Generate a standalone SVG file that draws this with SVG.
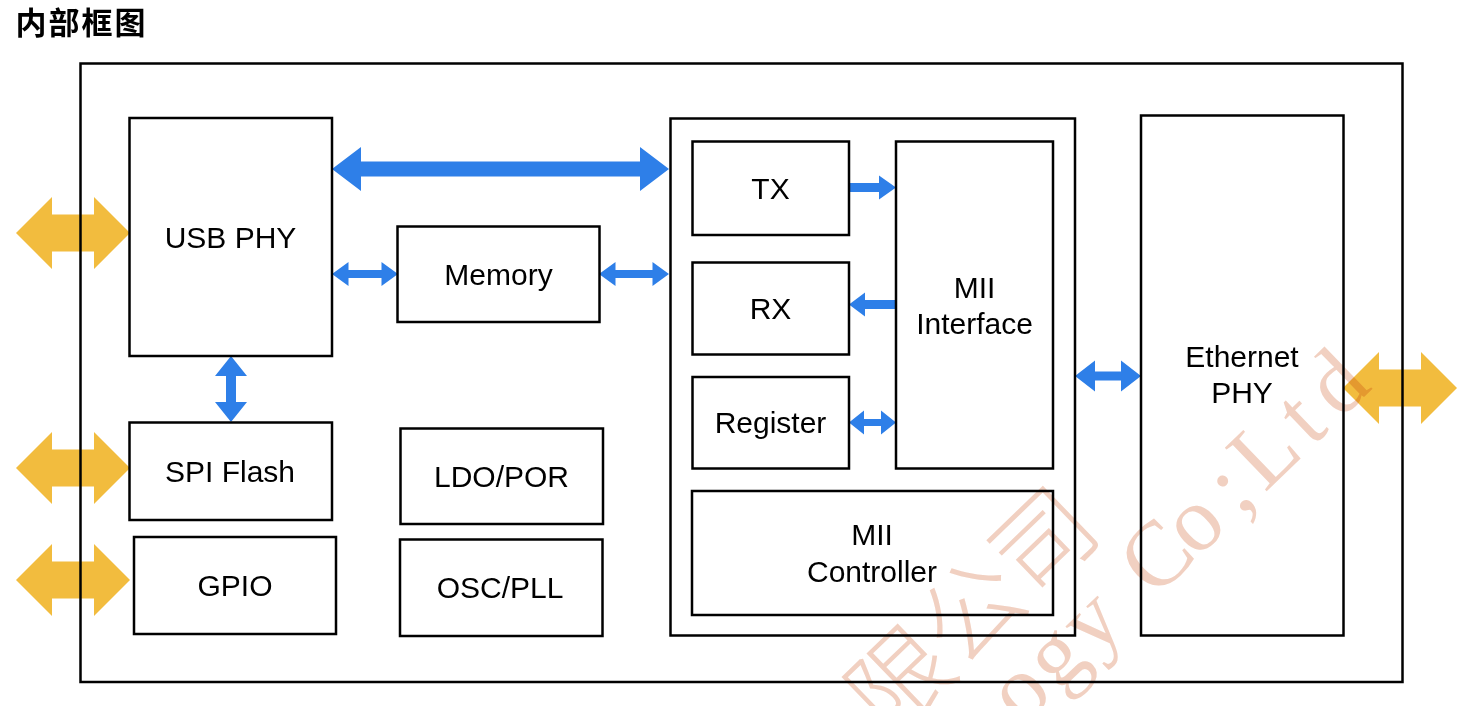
<svg xmlns="http://www.w3.org/2000/svg" width="1475" height="706" viewBox="0 0 1475 706">
  <style>
    .box { fill: none; stroke: #000; stroke-width: 2.5; }
    .lbl { font-family: "Liberation Sans", Arial, "Noto Sans CJK SC", sans-serif; font-size: 30px; fill: #000; text-anchor: middle; }
    .ext { fill: #F2BC3E; }
    .bus { fill: #2E7FE8; }
    .wm { font-size: 100px; fill: #F1D0C1; text-anchor: middle; }
    .wmcjk { font-family: "Noto Sans CJK SC", "Noto Sans CJK JP", sans-serif; font-weight: 300; }
    .wmlat { font-family: "Liberation Serif", "Times New Roman", serif; font-size: 92px; }
  </style>
  <rect x="0" y="0" width="1475" height="706" fill="#fff"/>

  <text id="title" x="15.5" y="34" font-family="'Noto Sans CJK SC', 'Noto Sans CJK JP', sans-serif" font-size="31" font-weight="bold" letter-spacing="2" fill="#000">内部框图</text>

  <g id="connectors">
    <!-- external yellow interfaces -->
    <polygon class="ext" points="16,233 52,197 52,214.5 94,214.5 94,197 130,233 94,269 94,251.5 52,251.5 52,269"/>
    <polygon class="ext" points="16,468 52,432 52,449.5 94,449.5 94,432 130,468 94,504 94,486.5 52,486.5 52,504"/>
    <polygon class="ext" points="16,580 52,544 52,561.5 94,561.5 94,544 130,580 94,616 94,598.5 52,598.5 52,616"/>
    <polygon class="ext" points="1343,388 1379,352 1379,369.5 1421,369.5 1421,352 1457,388 1421,424 1421,406.5 1379,406.5 1379,424"/>
    <!-- internal blue buses -->
    <polygon class="bus" points="332,169 361,147 361,161.5 640,161.5 640,147 669,169 640,191 640,176.5 361,176.5 361,191"/>
    <polygon class="bus" points="332,274 348.5,262 348.5,270 381.5,270 381.5,262 398,274 381.5,286 381.5,278 348.5,278 348.5,286"/>
    <polygon class="bus" points="599,274 615.5,262 615.5,270 652.5,270 652.5,262 669,274 652.5,286 652.5,278 615.5,278 615.5,286"/>
    <polygon class="bus" points="231,356 247,376 236,376 236,402 247,402 231,422 215,402 226,402 226,376 215,376"/>
    <polygon class="bus" points="849,183 879,183 879,175.5 896,187.5 879,199.5 879,192 849,192"/>
    <polygon class="bus" points="849,304.5 865,292.5 865,300 896,300 896,309 865,309 865,316.5"/>
    <polygon class="bus" points="849,422.5 864,410.5 864,419 881,419 881,410.5 896,422.5 881,434.5 881,426 864,426 864,434.5"/>
    <polygon class="bus" points="1075,376 1095,360.5 1095,371.5 1121,371.5 1121,360.5 1141,376 1121,391.5 1121,380.5 1095,380.5 1095,391.5"/>
  </g>

  <g id="chip">
    <rect class="box" x="80.5" y="63.5" width="1322" height="618.5"/>
  </g>

  <g id="usb-phy">
    <rect class="box" x="129.5" y="118" width="202.5" height="238"/>
    <text class="lbl" x="230.5" y="247.5">USB PHY</text>
  </g>
  <g id="memory">
    <rect class="box" x="397.5" y="226.5" width="202" height="95.5"/>
    <text class="lbl" x="498.5" y="285">Memory</text>
  </g>
  <g id="spi-flash">
    <rect class="box" x="129.5" y="422.5" width="202.5" height="97.5"/>
    <text class="lbl" x="230" y="481.5">SPI Flash</text>
  </g>
  <g id="gpio">
    <rect class="box" x="134" y="537" width="202" height="97"/>
    <text class="lbl" x="235" y="596">GPIO</text>
  </g>
  <g id="ldo-por">
    <rect class="box" x="400.5" y="428.5" width="202.5" height="95.5"/>
    <text class="lbl" x="501.5" y="486.5">LDO/POR</text>
  </g>
  <g id="osc-pll">
    <rect class="box" x="400" y="539.5" width="202.5" height="96.5"/>
    <text class="lbl" x="500" y="598">OSC/PLL</text>
  </g>

  <g id="mii-block">
    <rect class="box" x="670.5" y="118.5" width="404.5" height="517"/>
  </g>
  <g id="tx">
    <rect class="box" x="692.5" y="141.5" width="156.5" height="93.5"/>
    <text class="lbl" x="770.5" y="198.5">TX</text>
  </g>
  <g id="rx">
    <rect class="box" x="692.5" y="262.5" width="156.5" height="92"/>
    <text class="lbl" x="770.5" y="318.5">RX</text>
  </g>
  <g id="register">
    <rect class="box" x="692.5" y="377" width="156.5" height="91.5"/>
    <text class="lbl" x="770.5" y="432.5">Register</text>
  </g>
  <g id="mii-interface">
    <rect class="box" x="896" y="141.5" width="157" height="327"/>
    <text class="lbl" x="974.5" y="297.5">MII</text>
    <text class="lbl" x="974.5" y="333.5">Interface</text>
  </g>
  <g id="mii-controller">
    <rect class="box" x="692" y="491" width="361" height="124"/>
    <text class="lbl" x="872" y="545">MII</text>
    <text class="lbl" x="872" y="581.5">Controller</text>
  </g>
  <g id="ethernet-phy">
    <rect class="box" x="1141" y="115.5" width="202.5" height="520"/>
    <text class="lbl" x="1242" y="366.5">Ethernet</text>
    <text class="lbl" x="1242" y="403">PHY</text>
  </g>

  <g id="watermark" transform="translate(1033,602) rotate(-44)" style="mix-blend-mode:multiply">
    <text class="wm wmcjk" x="-150 -50 50" y="0">限公司</text>
    <text class="wm wmlat" x="-72 -22 28 120.5 170.5 220.5 270.5 320.5 370.5" y="82.5">ogyCo;Ltd</text>
  </g>
</svg>
